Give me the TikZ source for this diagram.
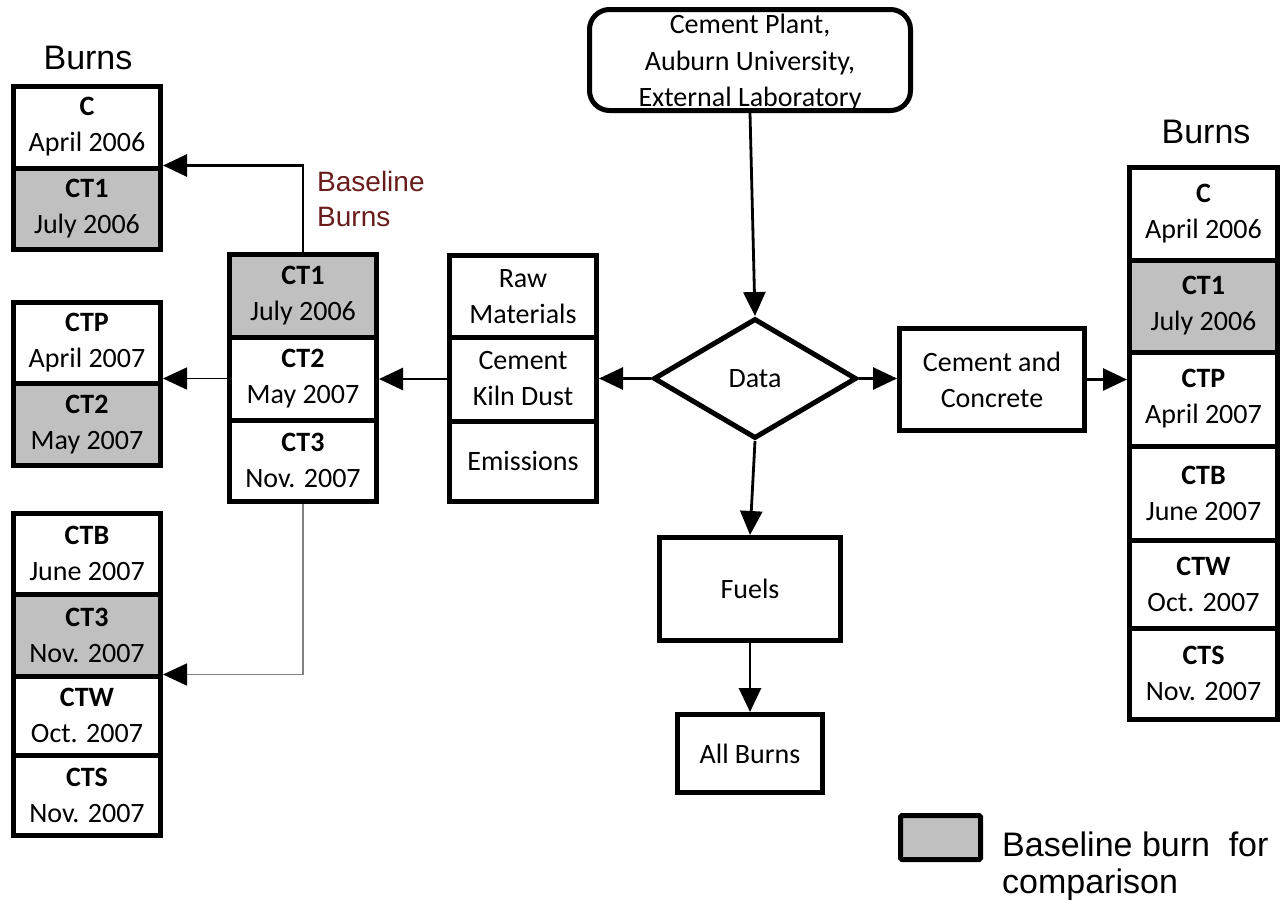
\documentclass[tikz,border=0pt]{standalone}
\usepackage{fontspec}
\setmainfont{Carlito}
\newfontfamily\arialf{Liberation Sans}
\usetikzlibrary{arrows.meta,shapes.geometric,calc}
\definecolor{burngray}{RGB}{192,192,192}
\definecolor{baselinered}{RGB}{105,28,28}
\definecolor{linegray}{RGB}{128,128,128}
\begin{document}
\begin{tikzpicture}[x=1pt,y=-1pt,
  cellbox/.style={draw=black, line width=5pt, minimum width=147pt, inner sep=0pt,
    align=center, font=\fontsize{28}{36}\selectfont, fill=white},
  gcell/.style={cellbox, fill=burngray},
  rcell/.style={cellbox, minimum width=148pt},
  plainbox/.style={draw=black, line width=5pt, inner sep=0pt, align=center,
    font=\fontsize{28}{36}\selectfont, fill=white},
  arr/.style={line width=2.8pt, -{Triangle[length=24pt,width=22pt]}},
  thinarr/.style={line width=1.6pt, -{Triangle[length=24pt,width=22pt]}},
  grayarr/.style={line width=1.8pt, draw=linegray, -{Triangle[length=24pt,width=22pt,color=black]}},
  burnslabel/.style={inner sep=0pt, font=\arialf\fontsize{34}{38}\selectfont}
]
\path[use as bounding box] (0,0) rectangle (1282,910);

% labels
\node[burnslabel] (lburns) at (88,58) {Burns};
\node[burnslabel] (rburns) at (1206,132) {Burns};
\node[anchor=west, align=left, inner sep=0pt, text=baselinered,
  font=\arialf\fontsize{28}{35}\selectfont] (bblabel) at (317,199) {Baseline\\Burns};

% left top group
\node[cellbox, minimum height=82pt] (lc) at (87,127) {\textbf{C}\\April 2006};
\node[gcell, minimum height=81pt] (lct1) at (87,208.5) {\textbf{CT1}\\July 2006};

% left middle group
\node[cellbox, minimum height=80.5pt] (lctp) at (87,342.75) {\textbf{CTP}\\April 2007};
\node[gcell, minimum height=82.5pt] (lct2) at (87,424.25) {\textbf{CT2}\\May 2007};

% left bottom group
\node[cellbox, minimum height=80.5pt] (lctb) at (87,553.75) {\textbf{CTB}\\June 2007};
\node[gcell, minimum height=82pt] (lct3) at (87,635) {\textbf{CT3}\\Nov. 2007};
\node[cellbox, minimum height=79pt] (lctw) at (87,715.5) {\textbf{CTW}\\Oct. 2007};
\node[cellbox, minimum height=80.5pt] (lcts) at (87,795.25) {\textbf{CTS}\\Nov. 2007};

% middle baseline stack
\node[gcell, minimum height=82.5pt] (mct1) at (303,295.75) {\textbf{CT1}\\July 2006};
\node[cellbox, minimum height=83pt] (mct2) at (303,378.5) {\textbf{CT2}\\May 2007};
\node[cellbox, minimum height=81.5pt] (mct3) at (303,460.75) {\textbf{CT3}\\Nov. 2007};

% raw materials stack
\node[cellbox, minimum height=81.5pt] (rmr) at (523,296.25) {Raw\\Materials};
\node[cellbox, minimum height=84pt] (rmk) at (523,379) {Cement\\Kiln Dust};
\node[cellbox, minimum height=80.5pt] (rme) at (523,461.25) {Emissions};

% right stack
\node[rcell, minimum height=92.5pt] (rc) at (1203.5,213.75) {\textbf{C}\\April 2006};
\node[rcell, fill=burngray, minimum height=92pt] (rct1) at (1203.5,306) {\textbf{CT1}\\July 2006};
\node[rcell, minimum height=94pt] (rctp) at (1203.5,399) {\textbf{CTP}\\April 2007};
\node[rcell, minimum height=94pt] (rctb) at (1203.5,493) {\textbf{CTB}\\June 2007};
\node[rcell, minimum height=88pt] (rctw) at (1203.5,584) {\textbf{CTW}\\Oct. 2007};
\node[rcell, minimum height=91.5pt] (rcts) at (1203.5,673.75) {\textbf{CTS}\\Nov. 2007};

% central flow
\node[plainbox, rounded corners=20pt, minimum width=321pt, minimum height=101pt] (src) at (750,60) {};
\node[inner sep=0pt, align=center, font=\fontsize{28}{36.5}\selectfont] (srctext)
  at ($(src.center)+(0,3)$) {Cement Plant,\\Auburn University,\\External Laboratory};
\node[draw=black, line width=5pt, shape=diamond, inner sep=0pt, minimum width=203pt,
  minimum height=120pt, font=\fontsize{28}{36}\selectfont] (data) at (755,378.5) {Data};
\node[plainbox, minimum width=185pt, minimum height=102pt] (cc) at (992,379.5) {Cement and\\Concrete};
\node[plainbox, minimum width=181pt, minimum height=103pt] (fuels) at (750,589) {Fuels};
\node[plainbox, minimum width=145pt, minimum height=78pt] (allb) at (750,753.5) {All Burns};

% legend
\node[draw=black, line width=5pt, fill=burngray, rounded corners=1.5pt, minimum width=80pt,
  minimum height=44pt, inner sep=0pt] (legbox) at (940.5,837.5) {};
\node[anchor=west, align=left, inner sep=0pt, font=\arialf\fontsize{34}{37}\selectfont]
  (legtext) at (1002,866) {Baseline burn\hspace{0.55em}for\\comparison};

% connectors
\draw[arr] (src.south) -- (data.north);
\draw[arr] (data.west) -- (data.west -| rmk.east);
\draw[arr] (rmk.west) -- (rmk.west -| mct2.east);
\draw[thinarr] (mct2.west) -- (mct2.west -| lctp.east);
\draw[arr] (mct1.north) |- ($(lc.south east)+(0,-5)$);
\draw[grayarr] (mct3.south) |- ($(lct3.south east)+(0,-4)$);
\draw[arr] (data.east) -- (data.east -| cc.west);
\draw[arr] (cc.east) -- (cc.east -| rctp.west);
\draw[arr] (data.south) -- (fuels.north);
\draw[arr] (fuels.south) -- (allb.north);
\end{tikzpicture}
\end{document}
